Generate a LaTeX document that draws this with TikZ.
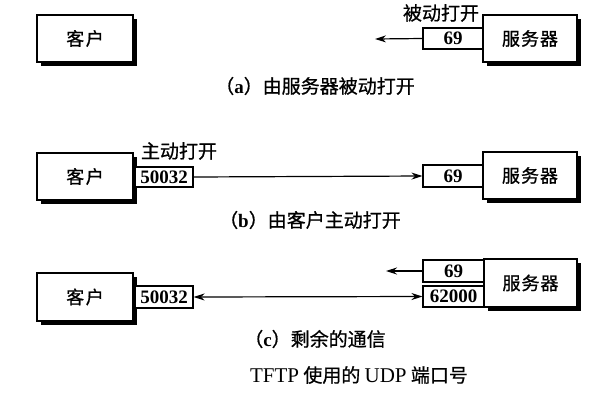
\documentclass[tikz,border=0pt]{standalone}
\usepackage{fontspec}
\setmainfont{Liberation Serif}
\newfontfamily\cjk[FakeBold=0.8]{Noto Sans CJK SC}
\usetikzlibrary{shadows,arrows.meta}
\begin{document}
\begin{tikzpicture}[x=1pt,y=-1pt,
  box/.style={draw, line width=1.2pt, fill=white, minimum width=96pt, minimum height=47pt, inner sep=0pt,
    font=\cjk\fontsize{18}{18}\selectfont,
    drop shadow={shadow xshift=3.5pt, shadow yshift=-3.5pt, fill=black, opacity=1}},
  port/.style={draw, line width=1.1pt, fill=white, minimum width=60pt, minimum height=21pt, inner sep=0pt,
    font=\fontsize{19}{19}\selectfont\bfseries},
  lbl/.style={font=\cjk\fontsize{19}{19}\selectfont, inner sep=0pt},
  captext/.style={font=\cjk\fontsize{19}{19}\selectfont, inner sep=0pt},
  arr/.style={line width=1.2pt, -{Stealth[length=11pt,width=7pt]}},
  darr/.style={line width=1.2pt, {Stealth[length=11pt,width=7pt]}-{Stealth[length=11pt,width=7pt]}}
]
\useasboundingbox (0,0) rectangle (600,400);
% (a)
\node[box] (ca) at (85,38.5) {客\hspace{1.5pt}户};
\node[box, minimum width=94pt] (sa) at (530,38.5) {服\hspace{1pt}务\hspace{1pt}器};
\node[port] (pa) at (453,38.5) {69};
\coordinate (ea) at (375,39);
\draw[arr] (pa.west) -- (ea);
\node[lbl] (la) at (441,13) {被动打开};
\node[captext] (capa) at (315,86) {（{\rmfamily\bfseries a}）由服务器被动打开};
% (b)
\node[box] (cb) at (85,176.5) {客\hspace{1.5pt}户};
\node[box, minimum width=94pt] (sb) at (530,175.5) {服\hspace{1pt}务\hspace{1pt}器};
\node[port, minimum width=58pt, minimum height=20pt] (pb1) at (164,177) {50032};
\node[port, minimum height=22pt] (pb2) at (453,176) {69};
\draw[arr] (pb1.east) -- (pb2.west);
\node[lbl] (lb) at (179,151) {主动打开};
\node[captext] (capb) at (310,220) {（{\rmfamily\bfseries b}）由客户主动打开};
% (c)
\node[box, minimum height=48pt] (cc) at (85,297) {客\hspace{1.5pt}户};
\node[box, minimum width=93pt, minimum height=48pt] (sc) at (530.5,283) {服\hspace{1pt}务\hspace{1pt}器};
\node[port, minimum width=58pt, minimum height=22pt] (pc1) at (164,297) {50032};
\node[port, minimum width=61pt, minimum height=22pt] (pc2) at (453.5,271) {69};
\node[port, minimum width=61pt, minimum height=21pt] (pc3) at (453.5,296.5) {62000};
\coordinate (ec) at (386,271);
\draw[arr] (pc2.west) -- (ec);
\draw[darr] (pc1.east) -- (pc3.west);
\node[captext] (capc) at (315,339) {（{\rmfamily\bfseries c}）剩余的通信};
\node[captext] (title) at (359,375) {{\rmfamily\fontsize{21}{21}\selectfont TFTP} 使用的 {\rmfamily\fontsize{21}{21}\selectfont UDP} 端口号};
\end{tikzpicture}
\end{document}
